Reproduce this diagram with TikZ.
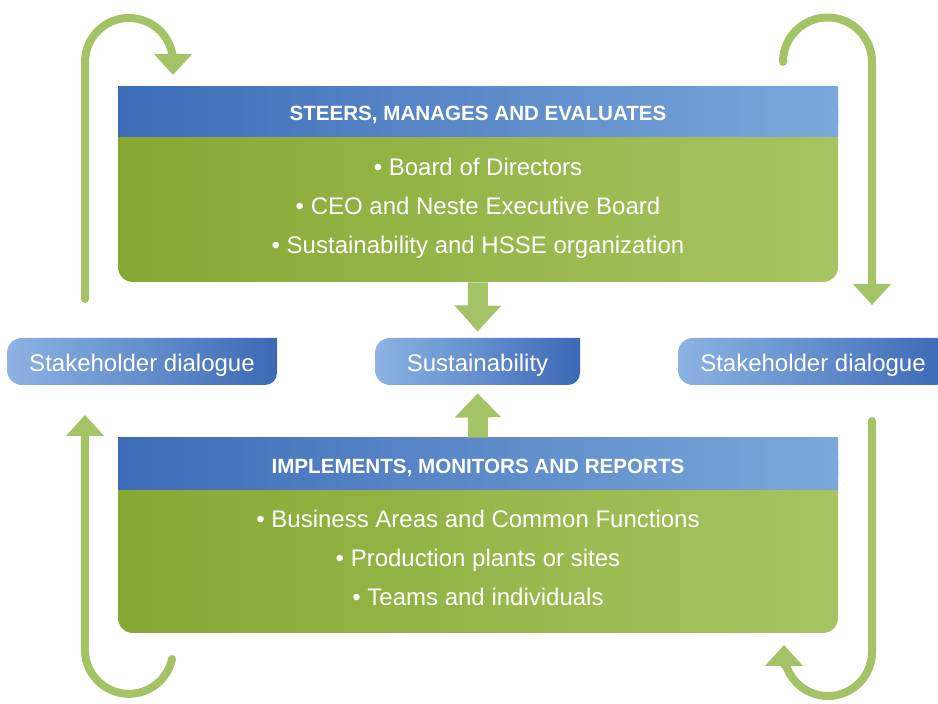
\documentclass[tikz,border=0pt]{standalone}
\usepackage{fontspec}
\setmainfont{Liberation Sans}
\usetikzlibrary{arrows.meta}

\definecolor{hdrdark}{HTML}{3D6CB8}
\definecolor{hdrlight}{HTML}{7BA8DA}
\definecolor{bodydark}{HTML}{86A833}
\definecolor{bodylight}{HTML}{A8C462}
\definecolor{pilllight}{HTML}{8DB3E3}
\definecolor{pilldark}{HTML}{3C69B6}
\definecolor{loopgreen}{HTML}{A3C366}

\tikzset{
    boxbody/.style={rectangle, rounded corners=7.5pt, minimum width=360pt,
        minimum height=97.5pt, inner sep=0pt, left color=bodydark, right color=bodylight},
    boxhead/.style={rectangle, minimum width=360pt, inner sep=0pt,
        left color=hdrdark, right color=hdrlight, text=white,
        font=\fontsize{10.3}{12}\selectfont\bfseries},
    boxlist/.style={align=center, text=white, font=\fontsize{12}{19.5}\selectfont},
    pill/.style={minimum height=23.5pt, inner sep=0pt, text=white,
        font=\fontsize{12}{14}\selectfont},
    pillshade/.style={left color=pilllight, right color=pilldark},
    looparrow/.style={draw=loopgreen, line width=4pt, line cap=round,
        -{Triangle[length=10.5pt,width=18.5pt]}},
    blockarrow/.style={draw=loopgreen, line width=10pt,
        -{Triangle[length=13pt,width=22.5pt]}}
}

\begin{document}
\begin{tikzpicture}[x=0.5pt, y=0.5pt]

    \useasboundingbox (0,0) rectangle (938,704);
    \clip (0,0) rectangle (938,704);

% pills
    \foreach \l/\r in {7/277, 375/580, 678/948}
        \shade[pillshade] (\l,351) arc[start angle=180, end angle=90, radius=15]
            -- (\r,366) -- (\r,331) arc[start angle=0, end angle=-90, radius=12]
            -- (\l+15,319) arc[start angle=270, end angle=180, radius=15] -- cycle;
    \node[pill, minimum width=135pt] (dialleft) at (142,342.5) {};
    \node[pill, minimum width=102.5pt] (sust) at (477.5,342.5) {};
    \node[pill, minimum width=135pt] (dialright) at (813,342.5) {};
    \node[pill] (dialleftlabel) at (142,339) {Stakeholder dialogue};
    \node[pill] (sustlabel) at (477.5,339) {Sustainability};
    \node[pill] (dialrightlabel) at (813,339) {Stakeholder dialogue};

% upper box
    \node[boxbody] (steer) at (478,519.5) {};
    \node[boxhead, minimum height=25pt] (steerhead) at (478,592) {};
    \node[boxhead] (steertitle) at (478,589) {STEERS, MANAGES AND EVALUATES};
    \node[boxlist] (steerlist) at (478,496)
        {\textbullet\ Board of Directors\\
         \textbullet\ CEO and Neste Executive Board\\
         \textbullet\ Sustainability and HSSE organization};

% lower box
    \node[boxbody] (impl) at (478,168.5) {};
    \node[boxhead, minimum height=26pt] (implhead) at (478,240) {};
    \node[boxhead] (impltitle) at (478,236) {IMPLEMENTS, MONITORS AND REPORTS};
    \node[boxlist] (impllist) at (478,146)
        {\textbullet\ Business Areas and Common Functions\\
         \textbullet\ Production plants or sites\\
         \textbullet\ Teams and individuals};

% arrows into sustainability
    \draw[blockarrow, shorten >=3pt] (steer.south) -- (sust.north);
    \draw[blockarrow, shorten >=4pt, -{Triangle[length=12pt,width=22.5pt]}]
        (implhead.north) -- (sust.south);

% loop ends
    \coordinate (tlstart) at (85,405);
    \coordinate (tltip) at (173,629);
    \coordinate (trstart) at (783,642);
    \coordinate (trtip) at (872,399);
    \coordinate (brstart) at (872,283);
    \coordinate (brtip) at (784,59);
    \coordinate (blstart) at (172,45);
    \coordinate (bltip) at (85,289);

% loops
    \draw[looparrow] (tlstart) -- ++(0,237)
        arc[start angle=180, end angle=0, radius=44] -- (tltip);
    \draw[looparrow] (trstart)
        arc[start angle=180, end angle=0, radius=44.5] -- (trtip);
    \draw[looparrow] (brstart) -- ++(0,-231)
        arc[start angle=0, end angle=-180, radius=44] -- (brtip);
    \draw[looparrow] (blstart)
        arc[start angle=-12, end angle=-180, radius=44] -- (bltip);

\end{tikzpicture}
\end{document}
